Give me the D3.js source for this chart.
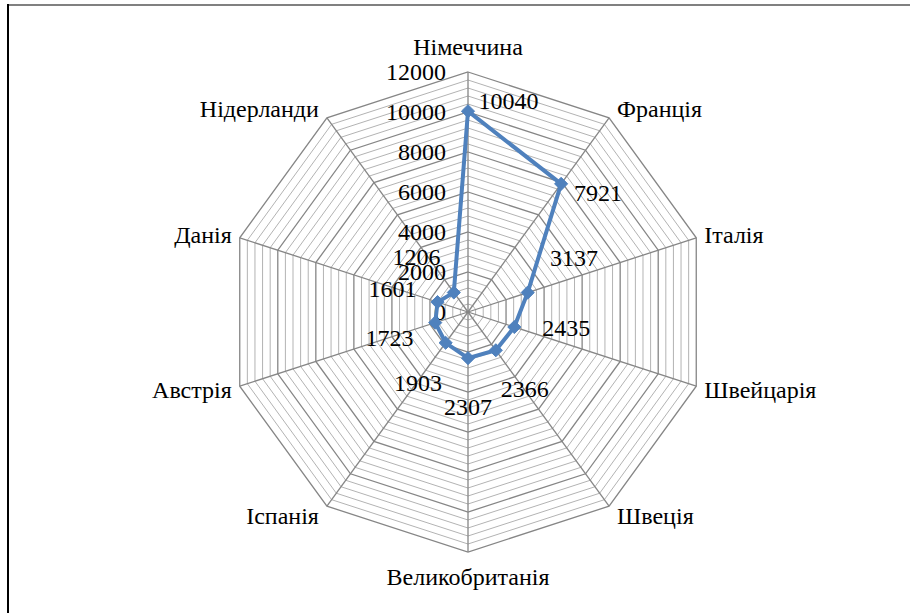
<!DOCTYPE html>
<html>
<head>
<meta charset="utf-8">
<script src="https://cdn.jsdelivr.net/npm/d3@7"></script>
<style>
  body { margin: 0; background: #fff; }
  svg text { font-family: "Liberation Serif", Tinos, "Times New Roman", serif; }
</style>
</head>
<body>
<script>
const categories = ["Німеччина", "Франція", "Італія", "Швейцарія", "Швеція",
    "Великобританія", "Іспанія", "Австрія", "Данія", "Нідерланди"];
const values = [10040, 7921, 3137, 2435, 2366, 2307, 1903, 1723, 1601, 1206];
const tickValues = [0, 2000, 4000, 6000, 8000, 10000, 12000];
const minorStep = 400;
const maxValue = 12000;
// label placement tweaks (degrees added to the spoke angle, distance in px)
const labelTurn = [75, 68, -19, -17, -1, 0, -1, 0, -1, -10];
const labelDist = [42, 38, 58, 52, 48, 48, 48, 48, 47, 52];

function plot_radar(width=910, height=613) {
    const cx = 468, cy = 312, R = 240;
    const fs = 24;
    const svg = d3.select("body")
        .append("svg")
        .attr("width", width)
        .attr("height", height);

    // frame
    svg.append("line").attr("x1", 8).attr("x2", width).attr("y1", 5).attr("y2", 5)
        .attr("stroke", "#808080").attr("stroke-width", 2);
    svg.append("line").attr("x1", 8).attr("x2", 8).attr("y1", 4).attr("y2", height)
        .attr("stroke", "#000").attr("stroke-width", 2);

    const r = d3.scaleLinear().domain([0, maxValue]).range([0, R]);
    const step = 2 * Math.PI / categories.length;
    const ang = i => i * step;
    const px = (i, v) => cx + r(v) * Math.sin(ang(i));
    const py = (i, v) => cy - r(v) * Math.cos(ang(i));

    const g = svg.append("g");
    const levels = d3.range(minorStep, maxValue + 1, minorStep);
    const ring = v => categories.map((c, i) => [px(i, v), py(i, v)]);

    // minor rings
    g.append("g").selectAll("polygon")
        .data(levels.filter(v => v % 2000 !== 0))
        .join("polygon")
        .attr("points", v => ring(v).join(" "))
        .attr("fill", "none")
        .attr("stroke", "#b3b3b3")
        .attr("stroke-width", 1);

    // major rings
    g.append("g").selectAll("polygon")
        .data(tickValues.filter(v => v > 0))
        .join("polygon")
        .attr("points", v => ring(v).join(" "))
        .attr("fill", "none")
        .attr("stroke", "#868686")
        .attr("stroke-width", 1.3);

    // spokes
    g.append("g").selectAll("line")
        .data(categories)
        .join("line")
        .attr("x1", cx).attr("y1", cy)
        .attr("x2", (d, i) => px(i, maxValue))
        .attr("y2", (d, i) => py(i, maxValue))
        .attr("stroke", "#868686")
        .attr("stroke-width", 1.3);

    // tick labels
    g.append("g").selectAll("text")
        .data(tickValues)
        .join("text")
        .attr("x", cx - 22)
        .attr("y", v => cy - r(v))
        .attr("dy", "0.35em")
        .attr("text-anchor", "end")
        .attr("font-size", fs)
        .text(d => d);

    // category labels
    g.append("g").selectAll("text")
        .data(categories)
        .join("text")
        .attr("x", (d, i) => {
            const s = Math.sin(ang(i));
            if (Math.abs(s) < 0.1) return px(i, maxValue);
            return px(i, maxValue) + (s > 0 ? 8 : -8);
        })
        .attr("y", (d, i) => {
            const c = Math.cos(ang(i));
            if (Math.abs(Math.sin(ang(i))) < 0.1) return py(i, maxValue) - c * 25;
            return py(i, maxValue) - c * 12;
        })
        .attr("dy", "0.35em")
        .attr("text-anchor", (d, i) => {
            const s = Math.sin(ang(i));
            if (Math.abs(s) < 0.1) return "middle";
            return s > 0 ? "start" : "end";
        })
        .attr("font-size", fs)
        .text(d => d);

    // series
    const line = d3.line().curve(d3.curveLinearClosed);
    const pts = values.map((v, i) => [px(i, v), py(i, v)]);
    g.append("path")
        .attr("d", line(pts))
        .attr("fill", "none")
        .attr("stroke", "#4f81bd")
        .attr("stroke-width", 4)
        .attr("stroke-linejoin", "round");

    g.append("g").selectAll("path")
        .data(pts)
        .join("path")
        .attr("d", d3.symbol().type(d3.symbolDiamond2).size(110))
        .attr("transform", d => `translate(${d[0]},${d[1]})`)
        .attr("fill", "#4f81bd")
        .attr("stroke", "#4f81bd")
        .attr("stroke-width", 1);

    // data labels
    g.append("g").selectAll("text")
        .data(values)
        .join("text")
        .attr("x", (v, i) => px(i, v) + labelDist[i] * Math.sin(ang(i) + labelTurn[i] * Math.PI / 180))
        .attr("y", (v, i) => py(i, v) - labelDist[i] * Math.cos(ang(i) + labelTurn[i] * Math.PI / 180))
        .attr("dy", "0.35em")
        .attr("text-anchor", "middle")
        .attr("font-size", fs)
        .text(d => d);
}

plot_radar();
</script>
</body>
</html>
